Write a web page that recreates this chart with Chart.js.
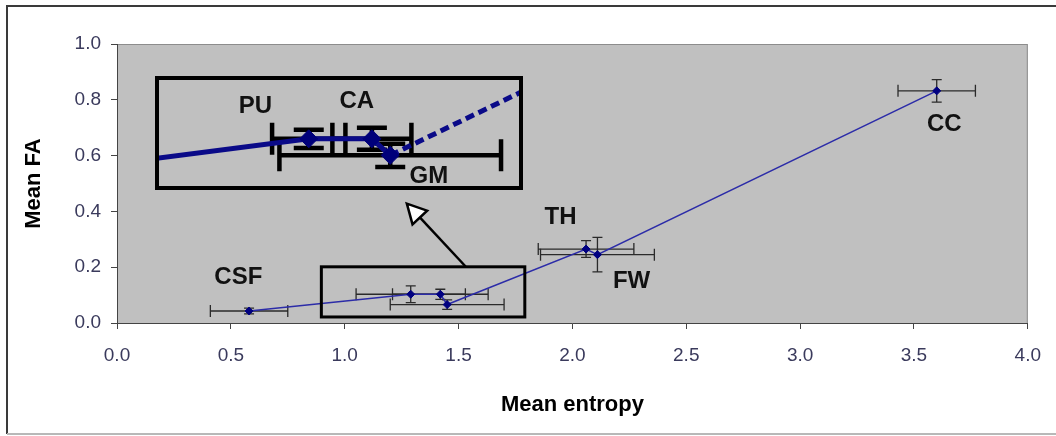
<!DOCTYPE html>
<html>
<head>
<meta charset="utf-8">
<script src="https://cdn.jsdelivr.net/npm/chart.js@4.4.1/dist/chart.umd.min.js"></script>
<style>
  html, body { margin: 0; padding: 0; background: #fff; }
  #wrap { position: relative; width: 1056px; height: 436px; overflow: hidden; }
  #inset { position: absolute; }
  canvas { display: block; }
</style>
</head>
<body>
<div id="wrap">
  <canvas id="main" width="1056" height="436"></canvas>
  <div id="inset"><canvas id="zoom"></canvas></div>
</div>
<script>
// Mean FA vs mean entropy per tissue, with error bars (both directions)
const tissues    = ["CSF", "PU", "CA", "GM", "TH", "FW", "CC"];
const entropy    = [0.58, 1.29, 1.42, 1.45, 2.06, 2.11, 3.60];
const meanFA     = [0.043, 0.103, 0.103, 0.066, 0.265, 0.245, 0.832];
const entropyErr = [0.17, 0.24, 0.21, 0.25, 0.21, 0.25, 0.17];
const faErr      = [0.010, 0.030, 0.018, 0.017, 0.030, 0.062, 0.040];

const xTicks = [0, 0.5, 1.0, 1.5, 2.0, 2.5, 3.0, 3.5, 4.0];
const yTicks = [0, 0.2, 0.4, 0.6, 0.8, 1.0];

// the magnified inset, as it was pasted in the figure (PU / CA / GM region)
const insetTissues    = ["CSF", "PU", "CA", "GM", "TH"];
const insetEntropy    = [0.58, 1.27, 1.425, 1.47, 2.06];
const insetFA         = [0.043, 0.102, 0.102, 0.075, 0.265];
const insetEntropyErr = [null, 0.09, 0.097, 0.272, null];
const insetFaErr      = [null, 0.015, 0.018, 0.019, null];

// callouts, in data units of the main axes
const zoomBox  = { x0: 0.8975, x1: 1.791, y0: 0.0216, y1: 0.2014 };
const insetBox = { x0: 0.142, x1: 1.811, y0: 0.4568, y1: 0.9065 };
const arrow    = { from: [1.531, 0.2025], to: [1.273, 0.428] };
const labelSpots      = { CSF: [0.533, 0.164], TH: [1.948, 0.377], FW: [2.26, 0.149], CC: [3.633, 0.711] };
const insetLabelSpots = { PU: [1.139, 0.1557], CA: [1.388, 0.163], GM: [1.565, 0.040] };

const FONT = "'Liberation Sans', Arial, sans-serif";
const TICK_COLOR = "#3a3a5c";
const PLOT_BG = "#c0c0c0";

function drawErrorBars(chart, xs, ys, xErr, yErr, st) {
  const sx = chart.scales.x, sy = chart.scales.y, ctx = chart.ctx;
  ctx.save();
  ctx.strokeStyle = st.color;
  ctx.lineWidth = st.width;
  ctx.lineCap = "butt";
  xs.forEach((x, i) => {
    const py = sy.getPixelForValue(ys[i]);
    const px = sx.getPixelForValue(x);
    if (xErr[i] != null) {
      const a = sx.getPixelForValue(x - xErr[i]), b = sx.getPixelForValue(x + xErr[i]);
      ctx.beginPath();
      ctx.moveTo(a, py); ctx.lineTo(b, py);
      ctx.moveTo(a, py - st.cap); ctx.lineTo(a, py + st.cap);
      ctx.moveTo(b, py - st.cap); ctx.lineTo(b, py + st.cap);
      ctx.stroke();
    }
    if (yErr[i] != null) {
      const a = sy.getPixelForValue(ys[i] - yErr[i]), b = sy.getPixelForValue(ys[i] + yErr[i]);
      ctx.beginPath();
      ctx.moveTo(px, a); ctx.lineTo(px, b);
      ctx.moveTo(px - st.capW, a); ctx.lineTo(px + st.capW, a);
      ctx.moveTo(px - st.capW, b); ctx.lineTo(px + st.capW, b);
      ctx.stroke();
    }
  });
  ctx.restore();
}

function drawLabels(chart, spots) {
  const sx = chart.scales.x, sy = chart.scales.y, ctx = chart.ctx;
  ctx.save();
  ctx.font = "bold 24px " + FONT;
  ctx.fillStyle = "#111";
  ctx.textAlign = "center";
  ctx.textBaseline = "middle";
  Object.entries(spots).forEach(([name, [x, y]]) => {
    ctx.fillText(name, sx.getPixelForValue(x), sy.getPixelForValue(y));
  });
  ctx.restore();
}

const plotFrame = {
  id: "plotFrame",
  beforeDraw(chart) {
    const { ctx, chartArea: a, width, height } = chart;
    ctx.save();
    ctx.fillStyle = PLOT_BG;
    ctx.fillRect(a.left, a.top, a.right - a.left, a.bottom - a.top);
    ctx.strokeStyle = "#8c8c8c";
    ctx.lineWidth = 1;
    ctx.strokeRect(a.left + 0.5, a.top + 0.5, a.right - a.left - 1, a.bottom - a.top);
    // outer chart border
    ctx.strokeStyle = "#3a3a3a";
    ctx.lineWidth = 2;
    ctx.beginPath();
    ctx.moveTo(width, 6); ctx.lineTo(7, 6); ctx.lineTo(7, height - 2);
    ctx.stroke();
    ctx.strokeStyle = "#b8b8b8";
    ctx.beginPath();
    ctx.moveTo(7, height - 2); ctx.lineTo(width, height - 2);
    ctx.stroke();
    ctx.restore();
  }
};

const mainErrors = {
  id: "mainErrors",
  beforeDatasetsDraw(chart) {
    drawErrorBars(chart, entropy, meanFA, entropyErr, faErr, { color: "#2a2a2a", width: 1.3, cap: 6, capW: 5 });
  }
};

const callouts = {
  id: "callouts",
  afterDatasetsDraw(chart) {
    const sx = chart.scales.x, sy = chart.scales.y, ctx = chart.ctx;
    ctx.save();
    // box around the zoomed region
    const l = sx.getPixelForValue(zoomBox.x0), r = sx.getPixelForValue(zoomBox.x1);
    const t = sy.getPixelForValue(zoomBox.y1), b = sy.getPixelForValue(zoomBox.y0);
    ctx.strokeStyle = "#000";
    ctx.lineWidth = 3;
    ctx.strokeRect(l, t, r - l, b - t);
    // arrow towards the inset
    const x1 = sx.getPixelForValue(arrow.from[0]), y1 = sy.getPixelForValue(arrow.from[1]);
    const x2 = sx.getPixelForValue(arrow.to[0]), y2 = sy.getPixelForValue(arrow.to[1]);
    const ang = Math.atan2(y2 - y1, x2 - x1);
    const headLen = 19, headHalf = 10;
    const bx = x2 - headLen * Math.cos(ang), by = y2 - headLen * Math.sin(ang);
    ctx.lineWidth = 2.5;
    ctx.beginPath();
    ctx.moveTo(x1, y1); ctx.lineTo(bx, by);
    ctx.stroke();
    ctx.beginPath();
    ctx.moveTo(x2, y2);
    ctx.lineTo(bx + headHalf * Math.sin(ang), by - headHalf * Math.cos(ang));
    ctx.lineTo(bx - headHalf * Math.sin(ang), by + headHalf * Math.cos(ang));
    ctx.closePath();
    ctx.fillStyle = "#fff";
    ctx.fill();
    ctx.lineWidth = 2.5;
    ctx.stroke();
    ctx.restore();
    drawLabels(chart, labelSpots);
  }
};

const tickFont = { family: FONT, size: 19 };
const titleFont = { family: FONT, size: 22, weight: "bold" };

const mainChart = new Chart(document.getElementById("main"), {
  type: "scatter",
  data: {
    datasets: [{
      data: tissues.map((t, i) => ({ x: entropy[i], y: meanFA[i] })),
      showLine: true,
      borderColor: "#2c2ca8",
      borderWidth: 1.6,
      tension: 0,
      pointStyle: "rectRot",
      pointRadius: 4,
      pointBackgroundColor: "#000080",
      pointBorderColor: "#000080",
      pointBorderWidth: 1
    }]
  },
  options: {
    responsive: false,
    animation: false,
    events: [],
    layout: { padding: { top: 44, right: 24, left: 0, bottom: 0 } },
    plugins: { legend: { display: false }, tooltip: { enabled: false } },
    scales: {
      x: {
        type: "linear", min: 0, max: 4,
        afterFit: s => { s.height = 113; },
        afterBuildTicks: s => { s.ticks = xTicks.map(v => ({ value: v })); },
        ticks: { color: TICK_COLOR, font: tickFont, padding: 15, maxRotation: 0, autoSkip: false,
                 callback: v => Number(v).toFixed(1) },
        grid: { drawOnChartArea: false, drawTicks: true, tickLength: 6, color: "#444" },
        border: { color: "#444", width: 1 },
        title: { display: true, text: "Mean entropy", color: "#000", font: titleFont,
                 padding: { top: 0, bottom: 18 } }
      },
      y: {
        type: "linear", min: 0, max: 1,
        afterFit: s => { s.width = 117; },
        afterBuildTicks: s => { s.ticks = yTicks.map(v => ({ value: v })); },
        ticks: { color: TICK_COLOR, font: tickFont, padding: 10, autoSkip: false,
                 callback: v => Number(v).toFixed(1) },
        grid: { drawOnChartArea: false, drawTicks: true, tickLength: 6, color: "#444" },
        border: { color: "#444", width: 1 },
        title: { display: true, text: "Mean FA", color: "#000", font: titleFont,
                 padding: { top: 21, bottom: 0 } }
      }
    }
  },
  plugins: [plotFrame, mainErrors, callouts]
});

// ---- inset: placed over the main chart where insetBox falls on its scales
const sx = mainChart.scales.x, sy = mainChart.scales.y;
const PAD = 2;
const L = Math.round(sx.getPixelForValue(insetBox.x0));
const R = Math.round(sx.getPixelForValue(insetBox.x1));
const T = Math.round(sy.getPixelForValue(insetBox.y1));
const B = Math.round(sy.getPixelForValue(insetBox.y0));
const holder = document.getElementById("inset");
const zoomCanvas = document.getElementById("zoom");
holder.style.left = (L - PAD) + "px";
holder.style.top = (T - PAD) + "px";
zoomCanvas.width = R - L + 2 * PAD;
zoomCanvas.height = B - T + 2 * PAD;

const insetFrame = {
  id: "insetFrame",
  beforeDraw(chart) {
    const { ctx, chartArea: a } = chart;
    ctx.save();
    ctx.fillStyle = PLOT_BG;
    ctx.fillRect(a.left, a.top, a.right - a.left, a.bottom - a.top);
    ctx.restore();
  },
  beforeDatasetsDraw(chart) {
    drawErrorBars(chart, insetEntropy, insetFA, insetEntropyErr, insetFaErr, { color: "#000", width: 4.5, cap: 16, capW: 15 });
  },
  afterDatasetsDraw(chart) {
    const { ctx, chartArea: a } = chart;
    drawLabels(chart, insetLabelSpots);
    ctx.save();
    ctx.strokeStyle = "#000";
    ctx.lineWidth = 4;
    ctx.strokeRect(a.left, a.top, a.right - a.left, a.bottom - a.top);
    ctx.restore();
  }
};

new Chart(zoomCanvas, {
  type: "scatter",
  data: {
    datasets: [{
      data: insetTissues.map((t, i) => ({ x: insetEntropy[i], y: insetFA[i] })),
      showLine: true,
      clip: 0,
      borderColor: "#0a0a88",
      borderWidth: 5,
      tension: 0,
      segment: { borderDash: c => (c.p0DataIndex === 3 ? [9, 5] : undefined) },
      pointStyle: "rectRot",
      pointRadius: 9,
      pointBackgroundColor: "#00007a",
      pointBorderColor: "#00007a",
      pointBorderWidth: 1
    }]
  },
  options: {
    responsive: false,
    animation: false,
    events: [],
    layout: { padding: PAD },
    plugins: { legend: { display: false }, tooltip: { enabled: false } },
    scales: {
      x: { type: "linear", display: false, min: zoomBox.x0, max: zoomBox.x1 },
      y: { type: "linear", display: false, min: zoomBox.y0, max: zoomBox.y1 }
    }
  },
  plugins: [insetFrame]
});
</script>
</body>
</html>
